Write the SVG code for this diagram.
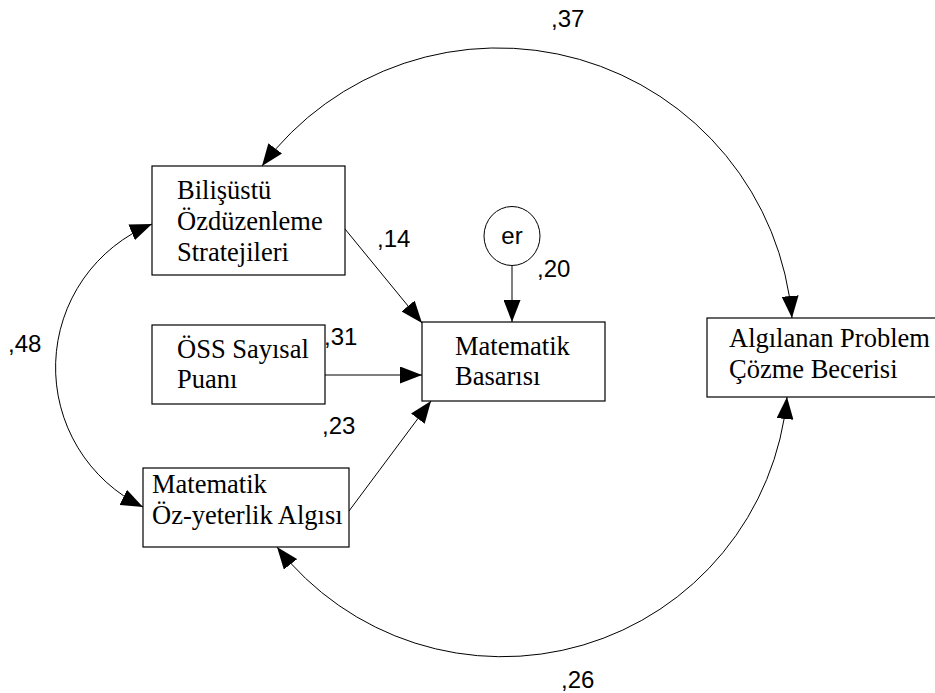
<svg xmlns="http://www.w3.org/2000/svg" width="935" height="693" viewBox="0 0 935 693">
<style>
.box{fill:#fff;stroke:#000;stroke-width:1.2}
.lbl{font-family:"Liberation Serif","Times New Roman",serif;font-size:26.5px;fill:#000}
.num{font-family:"Liberation Sans",Arial,sans-serif;font-size:24px;fill:#000}
.con{fill:none;stroke:#000;stroke-width:1}
</style>
<defs>
<marker id="ah" viewBox="0 0 22 17" refX="22" refY="8.5" markerWidth="22" markerHeight="17" markerUnits="userSpaceOnUse" orient="auto-start-reverse">
<path d="M0,0 L22,8.5 L0,17 z" fill="#000"/>
</marker>
</defs>
<rect width="935" height="693" fill="#fff"/>
<g id="connectors">
<path class="con" d="M345,229 L422,323" marker-end="url(#ah)"/>
<path class="con" d="M325,375 L422,375" marker-end="url(#ah)"/>
<path class="con" d="M349,511 L431,401" marker-end="url(#ah)"/>
<path class="con" d="M512,266 L512,322" marker-end="url(#ah)"/>
<path class="con" d="M262,166 A295,295 0 0 1 792,318" marker-start="url(#ah)" marker-end="url(#ah)"/>
<path class="con" d="M152,224 A155,155 0 0 0 143,507" marker-start="url(#ah)" marker-end="url(#ah)"/>
<path class="con" d="M277,547 A286,286 0 0 0 787,397" marker-start="url(#ah)" marker-end="url(#ah)"/>
</g>
<g id="n-bilisustu">
<rect class="box" x="152" y="166" width="193" height="109"/>
<text class="lbl" x="177" y="199">Bilişüstü</text>
<text class="lbl" x="177" y="230">Özdüzenleme</text>
<text class="lbl" x="177" y="261">Stratejileri</text>
</g>
<g id="n-oss">
<rect class="box" x="152" y="325" width="173" height="79"/>
<text class="lbl" x="177" y="358">ÖSS Sayısal</text>
<text class="lbl" x="177" y="388">Puanı</text>
</g>
<g id="n-basari">
<rect class="box" x="422" y="322" width="183" height="79"/>
<text class="lbl" x="455" y="355">Matematik</text>
<text class="lbl" x="455" y="385">Basarısı</text>
</g>
<g id="n-er">
<ellipse cx="512" cy="236" rx="28" ry="29.5" fill="#fff" stroke="#000" stroke-width="1"/>
<text class="num" x="512" y="244" text-anchor="middle">er</text>
</g>
<g id="n-algilanan">
<rect class="box" x="707" y="318" width="230" height="79"/>
<text class="lbl" x="729" y="347">Algılanan Problem</text>
<text class="lbl" x="729" y="378">Çözme Becerisi</text>
</g>
<g id="n-ozyeterlik">
<rect class="box" x="143" y="468" width="206" height="79"/>
<text class="lbl" x="152" y="493">Matematik</text>
<text class="lbl" x="152" y="524">Öz-yeterlik Algısı</text>
</g>
<g id="labels">
<text class="num" x="551" y="27">,37</text>
<text class="num" x="377" y="247">,14</text>
<text class="num" x="537" y="277">,20</text>
<text class="num" x="324" y="345">,31</text>
<text class="num" x="322" y="434">,23</text>
<text class="num" x="8" y="352">,48</text>
<text class="num" x="561" y="688">,26</text>
</g>
</svg>
